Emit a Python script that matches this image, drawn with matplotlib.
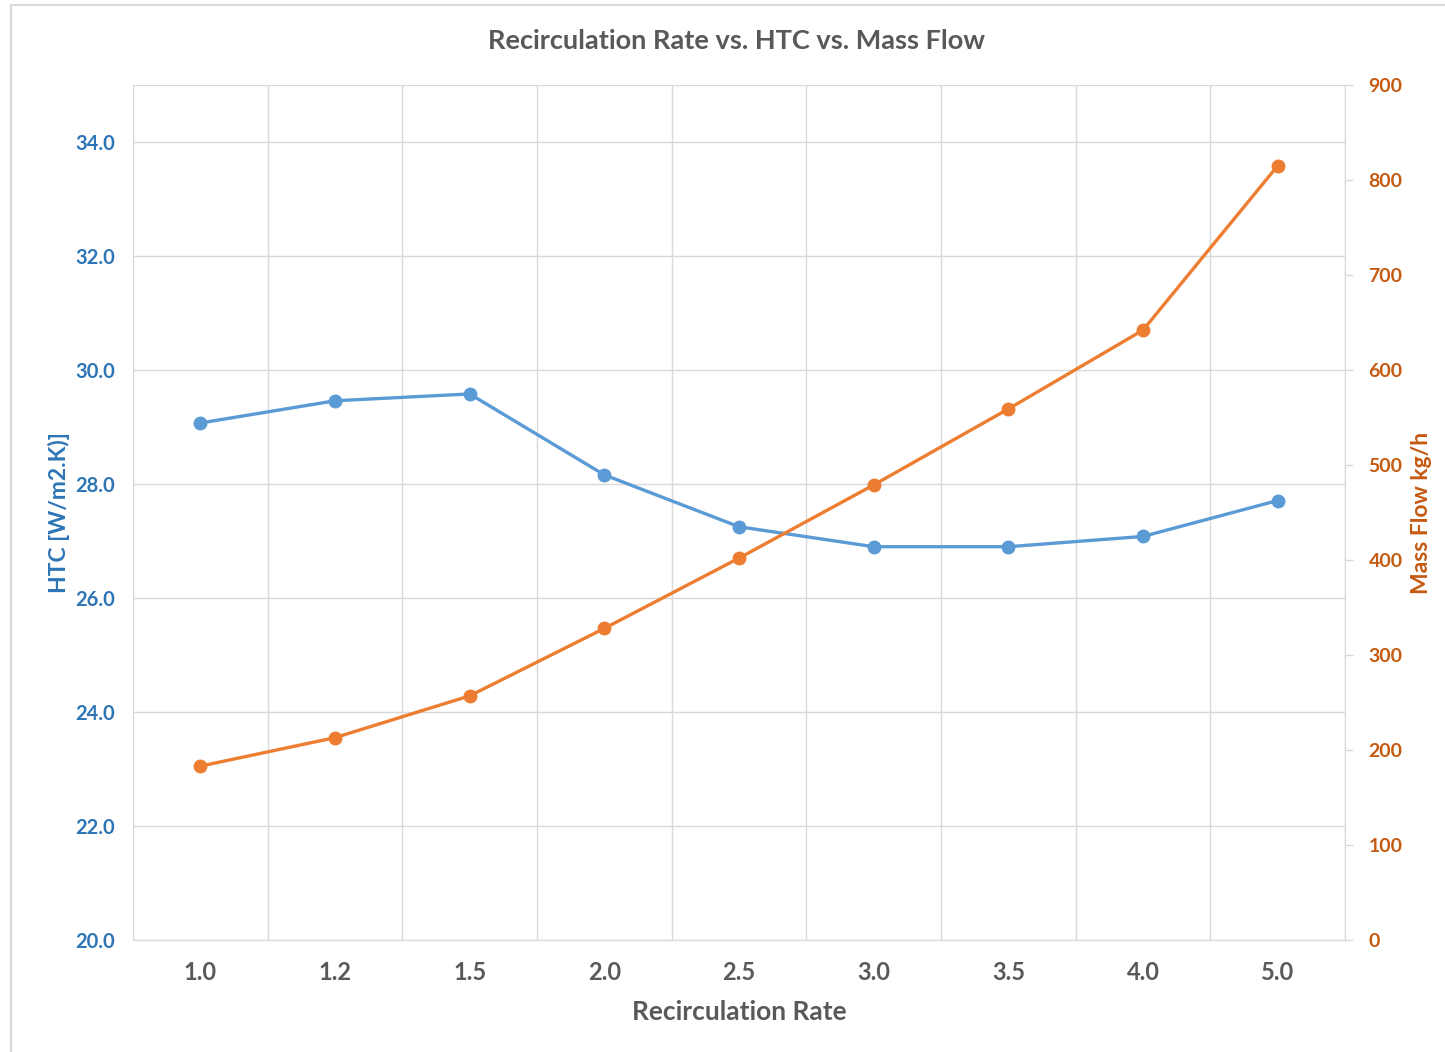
import matplotlib.pyplot as plt
import numpy as np
from matplotlib.patches import Rectangle

plt.rcParams['font.family'] = ['Lato', 'DejaVu Sans']
plt.rcParams['font.weight'] = 'bold'
plt.rcParams['axes.labelweight'] = 'bold'

rates = ['1.0', '1.2', '1.5', '2.0', '2.5', '3.0', '3.5', '4.0', '5.0']
htc = [29.07, 29.46, 29.58, 28.16, 27.25, 26.90, 26.90, 27.08, 27.71]
mass_flow = [183, 213, 257, 328, 402, 479, 559, 642, 815]

blue_line = '#5B9BD5'
blue_text = '#2E75B6'
orange_line = '#ED7D31'
orange_text = '#C55A11'
gray_text = '#595959'
grid_col = '#D9D9D9'

fig = plt.figure(figsize=(14.45, 10.52), dpi=100)
fig.patches.append(Rectangle((11 / 1445, -0.01), 1.0, 1 - 5 / 1052 + 0.01,
                             transform=fig.transFigure, fill=False,
                             edgecolor='#D9D9D9', linewidth=1.5))

ax = fig.add_axes([133 / 1445, 1 - 940 / 1052, (1345 - 133) / 1445, (940 - 85) / 1052])
ax2 = ax.twinx()

x = np.arange(len(rates))

ax.plot(x, htc, color=blue_line, linewidth=2.4, marker='o', markersize=9, zorder=3)
ax2.plot(x, mass_flow, color=orange_line, linewidth=2.4, marker='o', markersize=9, zorder=3)

ax.set_xlim(-0.5, len(rates) - 0.5)
ax.set_ylim(20, 35)
ax2.set_ylim(0, 900)

ax.set_xticks(x)
ax.set_xticklabels(rates)
ax.set_xticks(np.arange(len(rates) + 1) - 0.5, minor=True)
ax.set_yticks(np.arange(20, 35, 2))
ax.set_yticklabels([f"{v:.1f}" for v in np.arange(20, 35, 2)])
ax2.set_yticks(np.arange(0, 901, 100))

# horizontal gridlines on the HTC scale, vertical ones between categories
ax.grid(True, axis='y', color=grid_col, linewidth=1)
ax.grid(True, axis='x', which='minor', color=grid_col, linewidth=1)
ax.axhline(35, color=grid_col, linewidth=1)
ax.set_axisbelow(True)

ax.tick_params(axis='x', which='both', length=0, pad=15, labelsize=17, labelcolor=gray_text)
ax.tick_params(axis='y', length=0, pad=13, labelsize=14.5, labelcolor=blue_text)
ax2.tick_params(axis='y', length=6, color=grid_col, width=1, pad=11, labelsize=14, labelcolor=orange_text)

for a in (ax, ax2):
    for side in ('top', 'left', 'right'):
        a.spines[side].set_visible(False)
    a.spines['bottom'].set_color(grid_col)
ax2.spines['right'].set_visible(True)
ax2.spines['right'].set_color(grid_col)

ax.set_xlabel('Recirculation Rate', fontsize=19, color=gray_text, labelpad=12)
ax.set_ylabel('HTC [W/m2.K)]', fontsize=16.5, color=blue_text, labelpad=4)
ax2.set_ylabel('Mass Flow kg/h', fontsize=16.5, color=orange_text, labelpad=6)

fig.suptitle('Recirculation Rate vs. HTC vs. Mass Flow', fontsize=19.5, color=gray_text,
             fontweight='bold', x=736 / 1445, y=1 - 41 / 1052, va='center')

plt.savefig('out.png', dpi=100)
plt.close()
